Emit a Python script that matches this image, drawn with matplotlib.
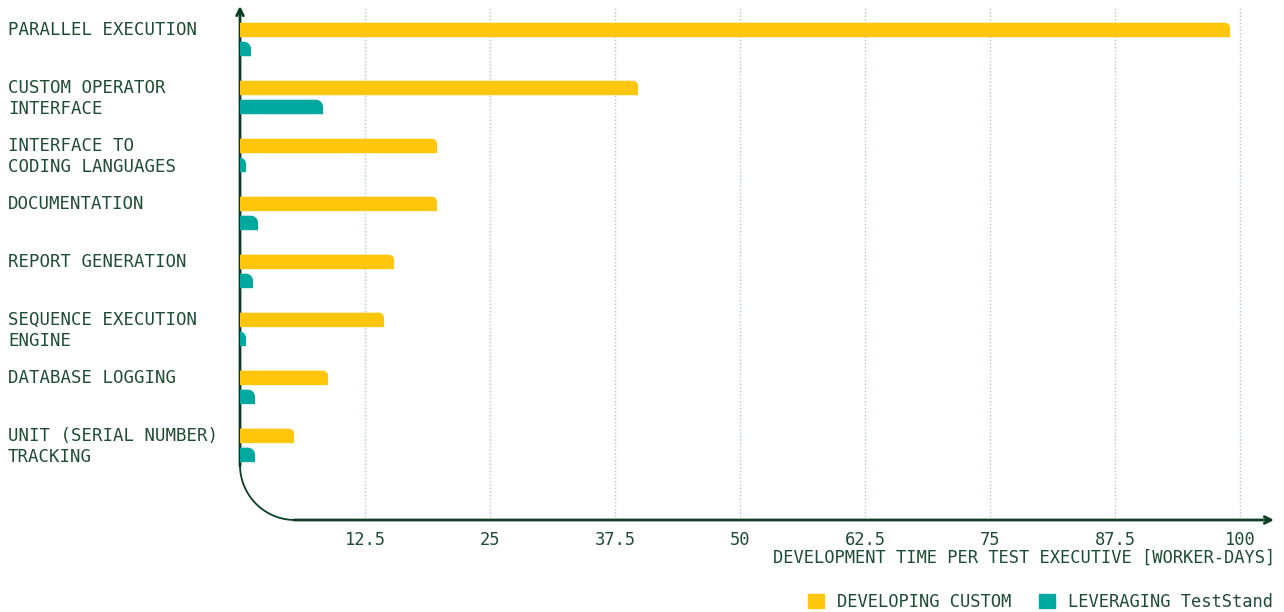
import matplotlib
matplotlib.use("Agg")
from matplotlib import pyplot as plt
from matplotlib.path import Path
from matplotlib.patches import PathPatch, Rectangle
import matplotlib.transforms as mtransforms
import numpy as np

categories = [
    "PARALLEL EXECUTION",
    "CUSTOM OPERATOR\nINTERFACE",
    "INTERFACE TO\nCODING LANGUAGES",
    "DOCUMENTATION",
    "REPORT GENERATION",
    "SEQUENCE EXECUTION\nENGINE",
    "DATABASE LOGGING",
    "UNIT (SERIAL NUMBER)\nTRACKING",
]
custom = [99, 39.8, 19.7, 19.7, 15.4, 14.4, 8.8, 5.4]
teststand = [1.1, 8.3, 0.6, 1.8, 1.3, 0.6, 1.5, 1.5]
ticks = [12.5, 25, 37.5, 50, 62.5, 75, 87.5, 100]
series_names = ["DEVELOPING CUSTOM", "LEVERAGING TestStand"]

YELLOW = "#ffc60b"
TEAL = "#00a99f"
DARK = "#0e3d25"
TEXT = "#1f4c34"
GRID = "#b4c6c6"
FS = 12.5
FS2 = 12.3

plt.rcParams["font.family"] = ["DejaVu Sans Mono", "Liberation Mono"]

W, H = 1284, 612
fig = plt.figure(figsize=(W / 100, H / 100), dpi=100)
# axes from x=240 to 1272 px, y=8 to 520 px (from top)
ax = fig.add_axes([240 / W, (H - 520) / H, 1032 / W, 512 / H])
ax.set_xlim(0, 103.2)
ax.set_ylim(8.287, -0.543)
ax.axis("off")

y = np.arange(len(categories))
off = 0.164
h = 0.25

tick_tr = mtransforms.blended_transform_factory(ax.transData, fig.transFigure)
for t in ticks:
    ax.plot([t, t], [8.287, -0.543], color=GRID, lw=1, ls=(0, (1, 1.5)), zorder=0)
    ax.text(t, (H - 540) / H, f"{t:g}", transform=tick_tr, ha="center", va="center",
            fontsize=FS2, color=TEXT)

bars1 = ax.barh(y - off, custom, height=h, color=YELLOW)
bars2 = ax.barh(y + off, teststand, height=h, color=TEAL)


def round_bar(rect, radius, color):
    # replace a rectangle with one rounded at its top-right corner (display px)
    x0, y0 = rect.get_x(), rect.get_y()
    x1, y1 = x0 + rect.get_width(), y0 + rect.get_height()
    (dx0, dyb), (dx1, dyt) = ax.transData.transform([(x0, y1), (x1, y0)])
    r = min(radius, dx1 - dx0, dyt - dyb)
    k = 0.5523 * r
    verts = [
        (dx0, dyb), (dx1, dyb), (dx1, dyt - r),
        (dx1, dyt - r + k), (dx1 - r + k, dyt), (dx1 - r, dyt),
        (dx0, dyt), (dx0, dyb),
    ]
    codes = [Path.MOVETO, Path.LINETO, Path.LINETO,
             Path.CURVE4, Path.CURVE4, Path.CURVE4,
             Path.LINETO, Path.CLOSEPOLY]
    rect.set_visible(False)
    p = PathPatch(Path(verts, codes), facecolor=color, edgecolor="none",
                  transform=mtransforms.IdentityTransform(), zorder=2)
    fig.add_artist(p)


for b in bars1:
    round_bar(b, 5, YELLOW)
for b in bars2:
    round_bar(b, 7, TEAL)

# category labels, first line at the yellow bar
lab_tr = mtransforms.blended_transform_factory(fig.transFigure, ax.transData)
for i, lab in enumerate(categories):
    for j, line in enumerate(lab.split("\n")):
        ax.text(8 / W, i - off + j * 0.362, line, transform=lab_tr,
                ha="left", va="center", fontsize=FS, color=TEXT)


def fx(px):
    return px / W


def fy(py):
    return (H - py) / H


# axis lines with rounded corner
ft = fig.transFigure
ax.annotate("", xy=(fx(240), fy(6)), xytext=(fx(240), fy(466)),
            xycoords=ft, textcoords=ft,
            arrowprops=dict(arrowstyle="->", color=DARK, lw=2, shrinkA=0, shrinkB=0,
                            mutation_scale=12))
ax.annotate("", xy=(fx(1274), fy(520)), xytext=(fx(294), fy(520)),
            xycoords=ft, textcoords=ft,
            arrowprops=dict(arrowstyle="->", color=DARK, lw=2, shrinkA=0, shrinkB=0,
                            mutation_scale=12))
th = np.linspace(np.pi, 1.5 * np.pi, 60)
cx, cy, rr = 295, 465, 55
arc_x = [fx(cx + rr * np.cos(a)) for a in th]
arc_y = [fy(cy - rr * np.sin(a)) for a in th]
fig.add_artist(plt.Line2D(arc_x, arc_y, transform=ft, color=DARK, lw=1.3))

fig.text(fx(1275), fy(558), "DEVELOPMENT TIME PER TEST EXECUTIVE [WORKER-DAYS]",
         ha="right", va="center", fontsize=FS2, color=TEXT)

# legend
handles = [Rectangle((0, 0), 1, 1, color=YELLOW), Rectangle((0, 0), 1, 1, color=TEAL)]
fig.legend(handles, series_names, loc="center right", bbox_to_anchor=(fx(1283), fy(602)),
           ncol=2, frameon=False, fontsize=FS2, labelcolor=TEXT,
           handlelength=0.95, handleheight=0.95, handletextpad=0.75, columnspacing=1.6,
           borderaxespad=0.2)

fig.savefig("out.png", dpi=100)
